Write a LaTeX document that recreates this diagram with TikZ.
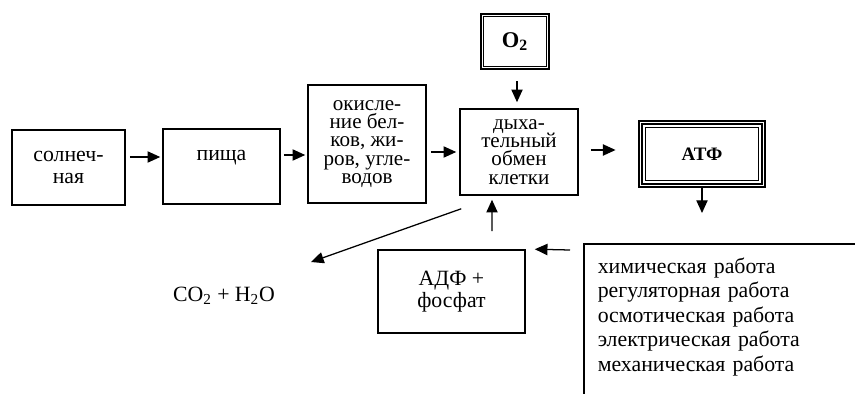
\documentclass[tikz,border=0pt]{standalone}
\usepackage{fontspec}
\setmainfont{Liberation Serif}
\usetikzlibrary{arrows.meta}

\begin{document}
\begin{tikzpicture}[x=0.025cm, y=-0.025cm,
  box/.style={draw, line width=1.1pt, align=center, inner sep=0pt},
  tight/.style={font={\fontsize{15}{12.9}\selectfont\lineskiplimit=-20pt}},
  loose/.style={font={\fontsize{15.5}{15.4}\selectfont\lineskiplimit=-20pt}},
  arr/.style={-{Triangle[length=9pt,width=8pt]}, line width=0.9pt}]
\useasboundingbox (0,0) rectangle (855,394);
\clip (0,0) rectangle (855,394);
\node[box, loose, minimum width=2.825cm, minimum height=1.875cm] (sun) at (68.5,167.5) {солнеч-\\ная};
\node[box, loose, minimum width=2.925cm, minimum height=1.875cm] (food) at (221.5,166.5) {пища\\ \mbox{}};
\node[box, tight, minimum width=2.95cm, minimum height=2.95cm] (oxid) at (367,144) {окисле-\\ние бел-\\ков, жи-\\ров, угле-\\водов};
\node[box, tight, minimum width=2.95cm, minimum height=2.15cm] (resp) at (519,152) {дыха-\\тельный\\обмен\\клетки};
\node[box, line width=1.9pt, minimum width=1.7cm, minimum height=1.375cm, font=\bfseries\fontsize{16}{16}\selectfont] (ox) at (515,41.5) {O\textsubscript{2}};
\draw[line width=0.9pt] ([shift={(4,4)}]ox.north west) rectangle ([shift={(-4,-4)}]ox.south east);
\node[box, line width=2pt, minimum width=3.15cm, minimum height=1.65cm, font=\bfseries\fontsize{13.5}{14}\selectfont] (atp) at (702,154) {АТФ};
\draw[line width=0.9pt] ([shift={(4.3,4.3)}]atp.north west) rectangle ([shift={(-4.3,-4.3)}]atp.south east);
\draw[line width=0.9pt] ([shift={(7.8,7.8)}]atp.north west) rectangle ([shift={(-7.8,-7.8)}]atp.south east);
\node[box, loose, minimum width=3.675cm, minimum height=2.075cm] (adp) at (451.5,291.5) {АДФ +\\фосфат};
\node[draw, line width=1.1pt, anchor=north west, align=left, text width=7cm, inner xsep=0.35cm, inner ysep=10pt, font={\fontsize{15.5}{17.4}\selectfont}] (work) at (583,243) {химическая работа\\регуляторная работа\\осмотическая работа\\электрическая работа\\механическая работа\\ \mbox{}};
\node[font=\fontsize{15.5}{16}\selectfont] (co2) at (224,296) {CO\textsubscript{2} + H\textsubscript{2}O};
\coordinate (atpend) at (703,213);
\coordinate (co2tip) at (311,262);
\draw[arr] ([shift={(4,-10.5)}]sun.east) -- ([shift={(-2,-9.5)}]food.west);
\draw[arr] ([shift={(3,-11.5)}]food.east) -- ([shift={(-2,11)}]oxid.west);
\draw[arr] ([shift={(4,8)}]oxid.east) -- ([shift={(-3,0)}]resp.west);
\draw[arr] ([shift={(2,11)}]ox.south) -- ([shift={(-2,-6)}]resp.north);
\draw[arr] ([shift={(12,-2)}]resp.east) -- ([shift={(-22,-4)}]atp.west);
\draw[arr] (atp.south) -- (atp.south |- atpend);
\draw[arr] ([shift={(2,13)}]resp.south west) -- (co2tip);
\draw[arr] ([shift={(40.5,-18)}]adp.north) -- ([shift={(-27,4)}]resp.south);
\draw[arr] ([shift={(-13,7)}]work.north west) -- ([shift={(9,0)}]adp.north east);
\end{tikzpicture}
\end{document}
